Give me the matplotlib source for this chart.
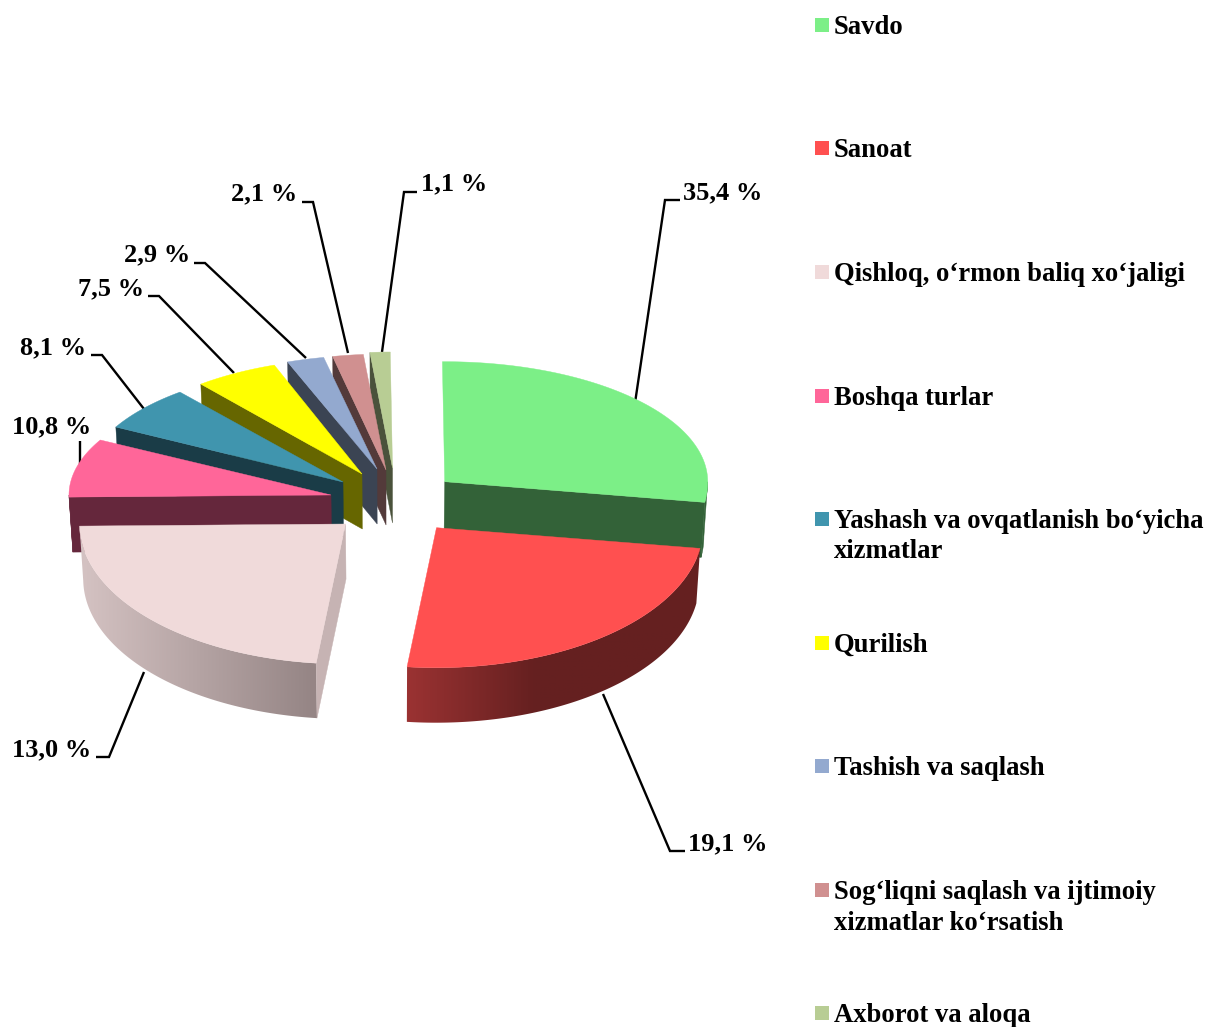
import matplotlib
matplotlib.use("Agg")
import matplotlib.pyplot as plt
from matplotlib.colors import to_rgb
from matplotlib.patches import Polygon, Rectangle
import numpy as np

# Categories and the percentages printed on the chart
categories = ["Savdo", "Sanoat", "Qishloq, o‘rmon baliq xo‘jaligi", "Boshqa turlar",
              "Yashash va ovqatlanish bo‘yicha\nxizmatlar", "Qurilish", "Tashish va saqlash",
              "Sog‘liqni saqlash va ijtimoiy\nxizmatlar ko‘rsatish", "Axborot va aloqa"]
printed_values = [35.4, 19.1, 13.0, 10.8, 8.1, 7.5, 2.9, 2.1, 1.1]

# Share of the circle each slice really takes in the picture (not the same as the printed ones)
drawn_shares = [27.5, 24.4, 23.0, 8.1, 6.25, 5.3, 2.3, 1.9, 1.25]

top_colors = ["#7cef87", "#ff5050", "#f0dada", "#ff6699", "#4095ae", "#ffff00", "#93a9cf", "#d09090", "#b8cd94"]
wall_colors = ["#336238", "#8f2e2e", "#c6b3b3", "#65273c", "#1a3c47", "#666600", "#3b4453", "#533a3a", "#4a523b"]

# Where each exploded slice has its tip, in pixels, and its radii
apex_x = [444.7, 436.5, 345.5, 331, 343, 362, 377, 386, 392.5]
apex_y = [481.7, 527.7, 524, 495, 482, 474, 469, 470, 468]
radius_x = [263, 266.5, 266, 262, 258, 255, 260, 260, 259]
back_ry = [120, 120, 120, 116, 116, 116, 114, 116, 116]
front_ry = 140
depth = 55

label_x = [683, 688, 12, 12, 20, 78, 124, 231, 421]
label_y = [193, 844, 750, 427, 348, 289, 255, 194, 184]
leaders = [[(635, 403), (665, 200), (680, 200)],
           [(603, 694), (670, 851), (685, 851)],
           [(144, 672), (109, 757), (96, 757)],
           [(79.5, 469), (79.5, 441)],
           [(144, 409), (102, 355), (91, 355)],
           [(234, 373), (159, 296), (148, 296)],
           [(306, 358), (205, 263), (194, 263)],
           [(348, 353), (313, 202), (302, 202)],
           [(382, 352), (404, 192), (417, 192)]]

legend_y = [25, 148, 272, 396, 519, 643, 766, 890, 1013]

plt.rcParams["font.family"] = ["Liberation Serif", "DejaVu Serif"]
plt.rcParams["font.weight"] = "bold"

fig = plt.figure(figsize=(12.13, 10.27), dpi=100)
ax = fig.add_axes([0, 0, 1, 1])
ax.axis("off")

angles = -0.5 + np.concatenate([[0], np.cumsum(drawn_shares) / sum(drawn_shares) * 360])


def rim(i, t):
    t = np.radians(t)
    ry = np.where(np.cos(t) > 0, back_ry[i], front_ry)
    return apex_x[i] + radius_x[i] * np.sin(t), apex_y[i] - ry * np.cos(t)


def lower(x, y):
    # bottom face is a little narrower, the perspective of the 3D pie
    return x + (390 - x) * 0.012, y + depth


def wall(x0, y0, x1, y1, color, z):
    bx0, by0 = lower(x0, y0)
    bx1, by1 = lower(x1, y1)
    ax.add_patch(Polygon([(x0, y0), (x1, y1), (bx1, by1), (bx0, by0)], closed=True,
                         fc=color, ec=color, lw=0.3, zorder=z))


# left to right shading of the two big front walls
wall_shading = {1: (408, 535, "#9a3232", "#652020"), 2: (82, 314, "#d4c2c2", "#958585")}

# back slices first, the two big front ones last
draw_order = [8, 7, 6, 5, 4, 3, 0, 2, 1]
for z, i in enumerate(draw_order):
    z = z * 3 + 1
    t0, t1 = angles[i], angles[i + 1]
    ts = np.linspace(t0, t1, 120)
    xs, ys = rim(i, ts)

    # outer curved wall, only the part facing the viewer
    ft = np.linspace(max(t0, 90), min(t1, 270), 120)
    if ft[-1] > ft[0]:
        fx, fy = rim(i, ft)
        bx, by = lower(fx, fy)
        outline = np.column_stack([np.r_[fx, bx[::-1]], np.r_[fy, by[::-1]]])
        if i in wall_shading:
            x0, x1, lo, hi = wall_shading[i]
            grid = np.arange(outline[:, 0].min() - 2, outline[:, 0].max() + 3)
            f = np.clip((grid - x0) / (x1 - x0), 0, 1)[None, :, None]
            colors = (1 - f) * np.array(to_rgb(lo)) + f * np.array(to_rgb(hi))
            shape = Polygon(outline, closed=True, transform=ax.transData, fc="none", ec="none")
            ax.add_patch(shape)
            im = ax.imshow(colors, extent=(grid[0], grid[-1], outline[:, 1].max() + 2, outline[:, 1].min() - 2),
                           aspect="auto", interpolation="bilinear", zorder=z)
            im.set_clip_path(shape)
        else:
            ax.add_patch(Polygon(outline, closed=True, fc=wall_colors[i], ec=wall_colors[i], lw=0.3, zorder=z))

    # flat cut wall: end side for Savdo, start side for the others
    if i == 0:
        wall(xs[-1], ys[-1], apex_x[i], apex_y[i], wall_colors[i], z + 1)
    elif i >= 2:
        wall(xs[0], ys[0], apex_x[i], apex_y[i], wall_colors[i], z + 1)

    pts = np.column_stack([np.r_[apex_x[i], xs], np.r_[apex_y[i], ys]])
    ax.add_patch(Polygon(pts, closed=True, fc=top_colors[i], ec=top_colors[i], lw=0.3, zorder=z + 2))

for i, line in enumerate(leaders):
    ax.plot([p[0] for p in line], [p[1] for p in line], color="black", lw=1.7, zorder=0,
            solid_joinstyle="miter", solid_capstyle="butt")
    ax.text(label_x[i], label_y[i], f"{printed_values[i]:.1f} %".replace(".", ","),
            fontsize=19, ha="left", va="center", color="black", zorder=40)

for i, name in enumerate(categories):
    ax.add_patch(Rectangle((815, legend_y[i] - 7), 14, 14, fc=top_colors[i], ec="none", zorder=40))
    for k, part in enumerate(name.split("\n")):
        ax.text(834, legend_y[i] + 9 + k * 30.5, part, fontsize=19.2, ha="left", va="baseline",
                color="black", zorder=40)

ax.set_xlim(0, 1213)
ax.set_ylim(1027, 0)

fig.savefig("out.png", dpi=100)
